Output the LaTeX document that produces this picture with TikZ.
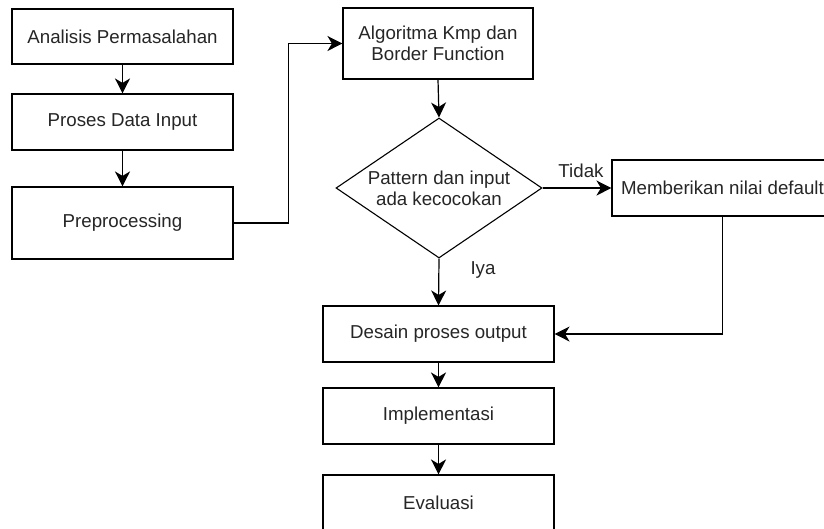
\documentclass[tikz,border=0pt]{standalone}
\usepackage{fontspec}
\setmainfont{Liberation Sans}
\usetikzlibrary{shapes.geometric,arrows.meta}
\begin{document}
\begin{tikzpicture}[x=1pt,y=-1pt,
  every node/.style={text=black!85, font=\fontsize{18.7}{21}\selectfont},
  box/.style={draw=black, line width=1.1pt, rectangle, inner sep=0pt, align=center},
  dec/.style={draw=black, line width=1.1pt, diamond, aspect=1.47, inner sep=0pt, minimum width=206pt, minimum height=140pt, align=center},
  arr/.style={draw=black, line width=1.2pt, -{Stealth[length=15pt,width=15pt,inset=4.5pt]}},
  lbl/.style={inner sep=0pt}]
\clip (0,0) rectangle (824,528);
\fill[white] (0,0) rectangle (824,528);
\node[box, minimum width=221pt, minimum height=55pt] (a1) at (122.5,36.5) {Analisis Permasalahan};
\node[box, minimum width=221pt, minimum height=56pt] (a2) at (122.5,122) {Proses Data Input};
\node[box, minimum width=221pt, minimum height=72pt] (a3) at (122.5,223) {Preprocessing};
\node[box, minimum width=190pt, minimum height=71pt] (kmp) at (438,43.5) {Algoritma Kmp dan\\Border Function};
\node[dec] (dia) at (439,188) {Pattern dan input\\ada kecocokan};
\node[box, minimum width=221pt, minimum height=56pt] (def) at (722.5,188) {Memberikan nilai default};
\node[box, minimum width=231pt, minimum height=56pt] (des) at (438.5,334) {Desain proses output};
\node[box, minimum width=231pt, minimum height=56pt] (imp) at (438.5,416) {Implementasi};
\node[box, minimum width=231pt, minimum height=56pt] (eva) at (438.5,503) {Evaluasi};
\draw[arr] (a1.south) -- (a2.north);
\draw[arr] (a2.south) -- (a3.north);
\draw[arr] (a3.east) -- ++(55,0) |- (kmp.west);
\draw[arr] (kmp.south) -- (dia.north);
\draw[arr] (dia.east) -- (def.west);
\draw[arr] (dia.south) -- (des.north);
\draw[arr] (def.south) |- (des.east);
\draw[arr] (des.south) -- (imp.north);
\draw[arr] (imp.south) -- (eva.north);
\node[lbl] (tidak) at (581,171) {Tidak};
\node[lbl] (iya) at (483,270) {Iya};
\end{tikzpicture}
\end{document}
